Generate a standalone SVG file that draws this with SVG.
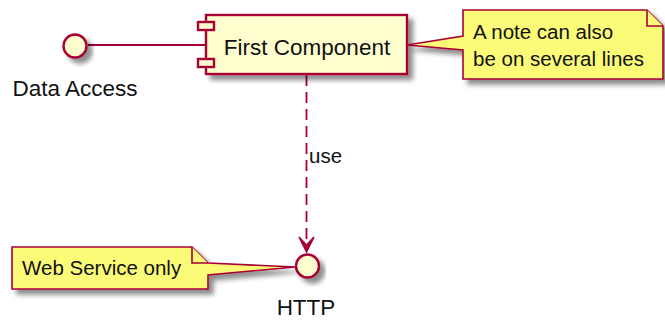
<svg xmlns="http://www.w3.org/2000/svg" width="665" height="320" viewBox="0 0 665 320">
<defs>
<filter id="sh" x="-20%" y="-20%" width="150%" height="160%">
<feGaussianBlur in="SourceAlpha" stdDeviation="2.5"/>
<feOffset dx="5" dy="5" result="b"/>
<feComponentTransfer><feFuncA type="linear" slope="0.45"/></feComponentTransfer>
<feMerge><feMergeNode/><feMergeNode in="SourceGraphic"/></feMerge>
</filter>
</defs>
<style>
.ln{stroke:#A80036;stroke-width:1.8;fill:none}
.comp{fill:#FEFECE;stroke:#A80036;stroke-width:2.4}
.note{fill:#FBFB77;stroke:#A80036;stroke-width:1.6}
.t{font-family:"Liberation Sans",Arial,sans-serif;fill:#111}
.lbl{font-size:22.5px}
.nt{font-size:20.5px}
</style>
<g id="connectors">
<line class="ln" x1="88" y1="45" x2="206" y2="45"/>
<line class="ln" x1="306.5" y1="75" x2="306.5" y2="248" stroke-dasharray="11,6"/>
<polygon points="306.5,252 299,237 306.5,245 314,237" fill="#A80036" stroke="#A80036" stroke-width="1.5"/>
<text class="t nt" x="309" y="163">use</text>
</g>
<g id="data-access">
<circle cx="75" cy="46" r="11.5" class="comp" filter="url(#sh)"/>
<text class="t lbl" x="75" y="96" text-anchor="middle">Data Access</text>
</g>
<g id="first-component">
<rect x="206" y="15" width="201" height="59" class="comp" filter="url(#sh)"/>
<rect x="198" y="22" width="16" height="8" class="comp" stroke-width="2"/>
<rect x="198" y="59" width="16" height="8" class="comp" stroke-width="2"/>
<text class="t lbl" x="307" y="55" text-anchor="middle">First Component</text>
</g>
<g id="http">
<circle cx="307.5" cy="266" r="11.5" class="comp" filter="url(#sh)"/>
<text class="t lbl" x="306" y="315" text-anchor="middle">HTTP</text>
</g>
<g id="note-1">
<path class="note" filter="url(#sh)" d="M463,10 H647 L663,26 V79 H463 V50 L407,45 L463,36 Z"/>
<path class="note" d="M647,10 V26 H663"/>
<text class="t nt" x="473" y="39">A note can also</text>
<text class="t nt" x="473" y="66">be on several lines</text>
</g>
<g id="note-2">
<path class="note" filter="url(#sh)" d="M12,247 H192 L208,263 V263 L295,267 L208,275 V289 H12 Z"/>
<path class="note" d="M192,247 V263 H208"/>
<text class="t nt" x="22" y="275">Web Service only</text>
</g>
</svg>
